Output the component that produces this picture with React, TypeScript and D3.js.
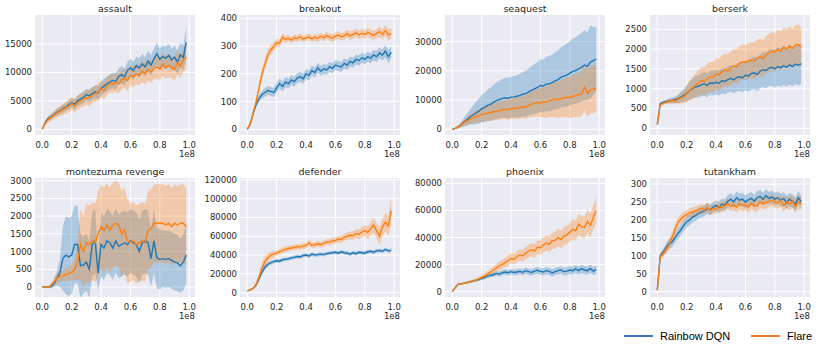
import React from "react";
import * as d3 from "d3";

// training steps, every 2e6 frames
const steps = d3.range(50).map((i) => i * 2e6);
const xTicks = [0, 0.2e8, 0.4e8, 0.6e8, 0.8e8, 1.0e8];

const assaultRainbow = [0,1200,1900,2200,2600,3000,3300,3600,3900,4300,4700,4400,5000,5300,5600,6100,5900,6300,6600,6400,7200,7600,8000,8300,8600,8400,9300,9600,9200,10400,10800,10300,11200,10800,11500,11000,12000,11300,12400,13300,12300,12800,12500,13000,12200,12700,11800,13100,12600,15300];
const assaultRainbowSd = [0,300,400,500,500,600,600,700,700,800,800,900,900,1000,1000,1000,1100,1100,1100,1200,1200,1300,1300,1300,1400,1400,1400,1500,1500,1500,1600,1600,1600,1700,1700,1700,1800,1800,1800,1900,1900,1900,2000,2000,2000,2000,2100,2100,2200,2800];
const assaultFlare = [0,1100,1700,2100,2500,2900,3200,3500,3800,4100,4600,4100,4700,5000,5300,5600,5500,6000,6300,6500,7100,6800,7600,8100,7900,8300,8000,8700,9000,8600,9400,9300,9700,9500,10200,9800,10500,10100,10700,11000,10600,11400,10800,11200,11000,10500,11800,11100,12200,12700];
const assaultFlareSd = [0,400,500,600,700,800,900,1000,1000,1100,1100,1200,1200,1300,1300,1300,1400,1400,1400,1500,1500,1500,1600,1600,1600,1700,1700,1700,1700,1800,1800,1800,1800,1800,1900,1900,1900,1900,1900,2000,2000,2000,2000,2000,2000,2000,2100,2100,2100,2100];

const breakoutRainbow = [0,20,58,90,112,125,133,140,137,133,150,165,155,170,165,178,172,185,190,182,200,195,212,205,222,210,218,214,226,220,232,228,225,238,232,245,240,252,248,258,252,262,256,268,262,275,268,282,262,278];
const breakoutRainbowSd = [0,5,8,10,12,14,15,16,16,16,18,18,18,18,18,18,18,18,18,18,18,18,18,18,18,18,18,18,18,18,18,18,18,18,18,18,18,18,18,18,18,18,18,18,20,20,20,22,25,20];
const breakoutFlare = [0,20,58,100,150,200,235,268,286,298,312,310,332,325,328,322,330,327,333,325,330,334,326,332,328,335,330,338,332,328,336,340,333,338,345,337,342,348,340,346,342,350,344,338,346,352,343,356,340,345];
const breakoutFlareSd = [0,5,10,12,15,18,20,20,18,16,15,14,14,13,12,12,12,12,12,12,12,12,12,12,13,13,13,13,13,14,14,14,14,14,15,15,15,15,15,15,16,16,16,16,16,18,18,20,22,18];

const seaquestRainbow = [0,300,800,1500,2500,3200,4200,4800,5500,6200,7000,7500,8200,8500,9200,9800,10200,10500,10800,10600,11000,11100,11300,11600,12000,12200,12800,13300,13800,14300,15000,14800,15500,15600,16000,16600,17000,17800,18200,18500,19200,19800,20100,20700,21200,22000,21500,23000,23500,24000];
const seaquestRainbowSd = [0,200,500,900,1500,2000,2600,3200,3800,4200,4700,5000,5300,5600,6000,6200,6400,6600,6800,7000,7000,7100,7200,7400,7600,7800,8000,8300,8500,8700,9000,9000,9300,9500,9600,9800,10000,10300,10500,10800,11000,11200,11400,11600,11800,12000,11500,12500,11500,11000];
const seaquestFlare = [0,300,800,1500,2300,2900,3400,3900,4300,4600,5000,5300,5500,5700,6000,6100,6400,6600,6800,6700,7000,7200,7100,7500,7700,7600,8200,8600,8800,9200,9000,9400,9300,9800,10000,10300,10100,10500,10800,11000,10800,11300,11500,11900,12000,14500,12200,13500,13700,14000];
const seaquestFlareSd = [0,200,400,700,1000,1300,1600,1900,2100,2300,2500,2600,2700,2800,2900,3000,3100,3200,3300,3400,3500,3600,3700,3800,3900,4000,4200,4400,4600,4800,5000,5200,5400,5600,5800,6000,6200,6400,6600,6800,7000,7200,7400,7600,7800,8000,8000,8200,8200,8000];

const berserkRainbow = [100,620,650,670,690,700,720,740,790,830,880,950,1000,1050,1060,1100,1120,1080,1150,1130,1160,1140,1200,1180,1230,1260,1220,1280,1300,1270,1340,1320,1380,1400,1360,1440,1480,1460,1520,1540,1500,1560,1530,1580,1540,1600,1560,1620,1590,1630];
const berserkRainbowSd = [0,40,40,50,60,70,80,100,130,160,200,230,250,270,280,290,300,300,300,310,310,320,320,330,330,340,340,350,360,370,380,390,400,410,420,430,440,450,460,470,480,480,490,490,500,500,500,510,510,520];
const berserkFlare = [100,590,630,660,680,700,690,720,760,800,870,950,1020,1080,1150,1200,1180,1250,1300,1280,1380,1350,1420,1480,1440,1520,1580,1550,1640,1680,1660,1700,1720,1700,1780,1800,1760,1850,1900,1950,1920,2000,1950,2050,2000,2080,2020,2100,2120,2050];
const berserkFlareSd = [0,30,40,50,60,70,80,100,130,160,200,240,280,300,320,340,360,370,380,390,400,400,410,410,420,420,430,430,440,440,450,450,450,460,460,460,470,470,480,480,480,490,490,500,500,500,500,500,500,500];

const montezumaRainbow = [0,0,0,10,100,250,400,800,900,850,900,1200,1200,600,620,700,500,1200,1300,400,1200,1100,1300,1250,1100,1300,1150,1200,1250,1200,1300,1250,1200,1000,1250,1300,1250,800,1300,820,780,800,780,800,750,700,680,600,700,900];
const montezumaRainbowSd = [0,0,20,50,100,200,400,900,1100,1100,1100,1100,1100,900,800,800,800,900,900,500,900,900,900,900,900,900,900,900,900,900,900,900,900,900,900,900,900,800,900,850,850,800,800,800,800,800,800,750,800,800];
const montezumaFlare = [0,0,0,50,150,250,300,320,350,380,400,500,700,1200,1000,1250,1200,1300,1250,1500,1700,1600,1750,1600,1750,1800,1750,1500,1600,1300,1250,1300,1200,1250,1300,1250,1600,1650,1800,1800,1800,1800,1750,1800,1700,1800,1750,1800,1800,1700];
const montezumaFlareSd = [0,0,20,60,100,150,150,150,180,200,220,300,500,1000,1000,1100,1100,1100,1100,1200,1200,1200,1200,1200,1200,1200,1200,1200,1200,1200,1100,1100,1100,1100,1100,1100,1100,1100,1100,1100,1100,1100,1100,1100,1100,1100,1100,1100,1100,1100];

const defenderRainbow = [2000,3000,4500,8000,15000,22000,27000,30000,32000,33000,34000,33500,35000,35500,36000,37000,37500,38500,38000,39500,40000,39000,41000,40000,40500,41000,40500,41500,42000,42500,43000,42000,43500,42500,42000,41000,42500,41500,43000,42500,42000,43500,44000,43000,44500,45000,44000,46000,44500,45000];
const defenderRainbowSd = [300,500,800,1500,2500,3000,3000,2500,2000,2000,2000,2000,2000,2000,2000,2000,2000,2000,2000,2000,2000,2000,2000,2000,2000,2000,2000,2000,2000,2000,2000,2000,2000,2000,2000,2000,2000,2000,2000,2000,2000,2000,2000,2000,2000,2000,2000,2000,2000,2000];
const defenderFlare = [2000,3000,4500,9000,17000,26000,33000,37000,40000,41000,42000,43500,45000,46000,47000,47500,48000,49000,48500,49500,50000,53000,50500,51000,52000,51000,52500,54000,53500,55000,55500,57000,56500,59000,60000,61000,60500,63000,62000,64500,66000,64000,68000,72000,66000,60000,70000,75000,71000,87000];
const defenderFlareSd = [300,500,800,2000,4000,6000,6000,5000,4000,3500,3000,3000,3000,3000,3000,3000,3000,3000,3000,3000,3000,3200,3200,3200,3300,3300,3300,3400,3400,3500,3500,3600,3700,3800,4000,4200,4500,4800,5000,5500,6000,6500,7000,8000,8000,9000,9000,10000,10000,15000];

const phoenixRainbow = [0,3000,5500,5800,6200,6800,7300,7800,8300,9000,9800,10500,11500,12000,12500,13500,13000,14000,14500,14000,14800,14200,14500,15000,14300,15500,14800,14200,15200,15800,15000,14500,15500,15000,13800,14800,15500,16000,14800,15200,16000,15500,16800,15500,17000,16000,15500,17000,15200,16500];
const phoenixRainbowSd = [0,300,500,500,600,700,800,900,1000,1100,1200,1400,1500,1600,1700,1800,1900,2000,2000,2000,2100,2100,2200,2200,2300,2300,2400,2400,2500,2500,2500,2600,2600,2600,2700,2700,2700,2800,2800,2800,2900,2900,2900,3000,3000,3000,3000,3000,3000,3000];
const phoenixFlare = [0,3000,5500,5800,6200,6600,7200,7900,8500,9500,10500,11500,13000,14500,16000,17500,19000,20000,21500,23000,24500,24000,26000,27000,26500,28500,30000,31000,30000,33000,32500,34500,36000,35000,37500,38000,40000,38500,41000,42000,44000,46000,45000,50000,48000,47500,52000,49000,55000,60000];
const phoenixFlareSd = [0,300,500,500,600,700,800,1000,1200,1500,1800,2000,2300,2500,2800,3000,3200,3400,3500,3600,3800,4000,4000,4200,4400,4500,4700,4900,5000,5200,5400,5500,5700,5900,6000,6200,6400,6500,6700,6900,7000,7300,7500,7800,8000,8200,8500,8800,9000,10000];

const tutankhamRainbow = [5,100,110,122,135,138,150,162,172,185,195,200,208,212,218,222,225,232,228,236,240,235,244,242,252,258,250,262,255,258,250,256,260,252,262,266,258,268,260,264,258,262,255,260,248,258,252,245,262,250];
const tutankhamRainbowSd = [5,8,10,12,14,15,15,15,15,15,15,15,15,15,15,15,15,15,15,15,15,16,16,16,17,17,17,18,18,18,18,18,18,18,18,18,18,18,18,18,18,18,18,18,18,18,18,18,18,18];
const tutankhamFlare = [3,98,105,118,130,150,172,192,202,210,215,220,222,225,228,232,228,235,226,232,230,238,235,240,245,238,242,236,245,240,242,235,248,240,238,250,245,248,252,255,250,248,255,240,250,245,252,238,250,245];
const tutankhamFlareSd = [5,8,10,12,15,16,15,14,13,13,13,13,13,13,13,13,13,13,13,13,14,14,14,14,14,14,15,15,15,15,15,15,16,16,16,16,16,16,16,16,17,17,17,17,17,17,18,18,18,18];

const assaultTicks = [0, 5000, 10000, 15000];
const breakoutTicks = [0, 100, 200, 300, 400];
const seaquestTicks = [0, 10000, 20000, 30000];
const berserkTicks = [0, 500, 1000, 1500, 2000, 2500];
const montezumaTicks = [0, 500, 1000, 1500, 2000, 2500, 3000];
const defenderTicks = [0, 20000, 40000, 60000, 80000, 100000, 120000];
const phoenixTicks = [0, 20000, 40000, 60000, 80000];
const tutankhamTicks = [0, 50, 100, 150, 200, 250, 300];

const games = [
  { name: "assault", rainbow: assaultRainbow, rainbowSd: assaultRainbowSd, flare: assaultFlare, flareSd: assaultFlareSd, ticks: assaultTicks, yDomain: [-1000, 20100] },
  { name: "breakout", rainbow: breakoutRainbow, rainbowSd: breakoutRainbowSd, flare: breakoutFlare, flareSd: breakoutFlareSd, ticks: breakoutTicks, yDomain: [-20, 412] },
  { name: "seaquest", rainbow: seaquestRainbow, rainbowSd: seaquestRainbowSd, flare: seaquestFlare, flareSd: seaquestFlareSd, ticks: seaquestTicks, yDomain: [-1950, 39100] },
  { name: "berserk", rainbow: berserkRainbow, rainbowSd: berserkRainbowSd, flare: berserkFlare, flareSd: berserkFlareSd, ticks: berserkTicks, yDomain: [-170, 2860] },
  { name: "montezuma revenge", rainbow: montezumaRainbow, rainbowSd: montezumaRainbowSd, flare: montezumaFlare, flareSd: montezumaFlareSd, ticks: montezumaTicks, yDomain: [-282, 3076] },
  { name: "defender", rainbow: defenderRainbow, rainbowSd: defenderRainbowSd, flare: defenderFlare, flareSd: defenderFlareSd, ticks: defenderTicks, yDomain: [-4600, 122000] },
  { name: "phoenix", rainbow: phoenixRainbow, rainbowSd: phoenixRainbowSd, flare: phoenixFlare, flareSd: phoenixFlareSd, ticks: phoenixTicks, yDomain: [-3950, 84000] },
  { name: "tutankham", rainbow: tutankhamRainbow, rainbowSd: tutankhamRainbowSd, flare: tutankhamFlare, flareSd: tutankhamFlareSd, ticks: tutankhamTicks, yDomain: [-15, 317] },
];

const W = 822;
const H = 351;
const panelW = 160;
const rowTops = [15, 178];
const rowH = [120, 119];
const colLefts = [35, 240, 445, 650];
const BLUE = "#1f77b4";
const ORANGE = "#ff7f0e";
const TEXT = "#262626";
const FONT = "DejaVu Sans, sans-serif";

const Panel = ({ game, idx }) => {
  const col = idx % 4;
  const row = Math.floor(idx / 4);
  const left = colLefts[col];
  const top = rowTops[row];
  const h = rowH[row];

  const x = d3.scaleLinear().domain([-0.0495e8, 1.0395e8]).range([0, panelW]);
  const y = d3.scaleLinear().domain(game.yDomain).range([h, 0]);

  const line = (vals) =>
    d3.line().x((d, i) => x(steps[i])).y((d) => y(d))(vals);
  const area = (vals, sd) =>
    d3
      .area()
      .x((d, i) => x(steps[i]))
      .y0((d, i) => y(d - sd[i]))
      .y1((d, i) => y(d + sd[i]))(vals);

  const clipId = `clip-${idx}`;
  return (
    <g transform={`translate(${left},${top})`}>
      <defs>
        <clipPath id={clipId}>
          <rect width={panelW} height={h} />
        </clipPath>
      </defs>
      <rect width={panelW} height={h} fill="#eaeaf2" />
      {xTicks.map((t) => (
        <line key={"gx" + t} x1={x(t)} x2={x(t)} y1={0} y2={h} stroke="#fff" strokeWidth={1} />
      ))}
      {game.ticks.map((t) => (
        <line key={"gy" + t} x1={0} x2={panelW} y1={y(t)} y2={y(t)} stroke="#fff" strokeWidth={1} />
      ))}
      <g clipPath={`url(#${clipId})`}>
        <path d={area(game.rainbow, game.rainbowSd)} fill={BLUE} fillOpacity={0.3} />
        <path d={area(game.flare, game.flareSd)} fill={ORANGE} fillOpacity={0.3} />
        <path d={line(game.rainbow)} fill="none" stroke={BLUE} strokeWidth={1.4} />
        <path d={line(game.flare)} fill="none" stroke={ORANGE} strokeWidth={1.4} />
      </g>
      {xTicks.map((t) => (
        <text key={"tx" + t} x={x(t)} y={h + 13} textAnchor="middle" fontSize={8.5} fill={TEXT} fontFamily={FONT}>
          {(t / 1e8).toFixed(1)}
        </text>
      ))}
      <text x={panelW} y={h + 22} textAnchor="end" fontSize={8.5} fill={TEXT} fontFamily={FONT}>
        1e8
      </text>
      {game.ticks.map((t) => (
        <text key={"ty" + t} x={-3} y={y(t)} dy="0.35em" textAnchor="end" fontSize={8.5} fill={TEXT} fontFamily={FONT}>
          {t}
        </text>
      ))}
      <text x={panelW / 2} y={-3} textAnchor="middle" fontSize={9.5} fill={TEXT} fontFamily={FONT}>
        {game.name}
      </text>
    </g>
  );
};

export default function App() {
  return (
    <svg width={W} height={H} style={{ display: "block", position: "absolute", left: 0, top: 0 }}>
      <rect width={W} height={H} fill="#fff" />
      {games.map((g, i) => (
        <Panel key={g.name} game={g} idx={i} />
      ))}
      <g fontFamily="Liberation Sans, Arial, sans-serif" fontSize={11} fill="#000">
        <line x1={624} x2={653} y1={336} y2={336} stroke="#4472c4" strokeWidth={2} />
        <text x={660} y={340}>Rainbow DQN</text>
        <line x1={751} x2={780} y1={336} y2={336} stroke="#ed7d31" strokeWidth={2} />
        <text x={787} y={340}>Flare</text>
      </g>
    </svg>
  );
}
